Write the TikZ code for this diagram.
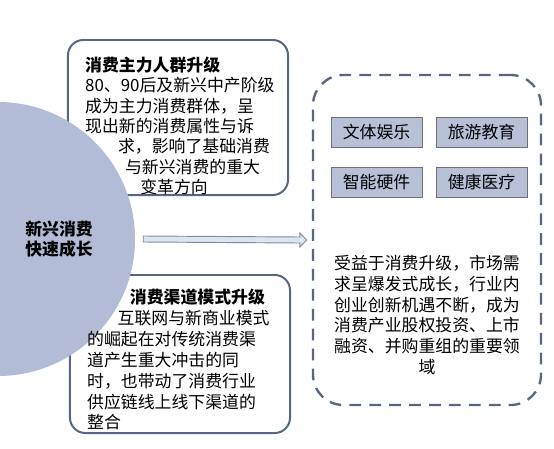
\documentclass[tikz,border=0pt]{standalone}
\usepackage{fontspec}
\setmainfont{Noto Sans CJK SC}
\newfontfamily\cjk{Noto Sans CJK SC}
\usepackage{tikz}
\usetikzlibrary{calc}
\usepackage{xcolor}

\definecolor{hubfill}{RGB}{179,188,214}
\definecolor{boxline}{RGB}{88,102,133}
\definecolor{tagfill}{RGB}{184,192,216}
\definecolor{tagline}{RGB}{112,112,112}
\definecolor{flowfill}{RGB}{220,230,242}
\definecolor{flowline}{RGB}{128,138,160}

\tikzset{
  card/.style={draw=boxline, line width=1.7pt, rounded corners=13pt, fill=white,
    rectangle, inner sep=0pt, minimum width=6.6cm},
  group/.style={draw=boxline, line width=2pt, dash pattern=on 10pt off 7pt,
    rounded corners=26pt, rectangle, inner sep=0pt,
    minimum width=6.84cm, minimum height=9.9cm},
  tag/.style={draw=tagline, line width=0.6pt, fill=tagfill, rectangle,
    minimum width=2.73cm, minimum height=0.9cm, inner sep=0pt,
    font=\cjk\fontsize{14.4}{17}\selectfont},
  body/.style={inner sep=0pt, font=\cjk\fontsize{14.4}{17.4}\selectfont},
}

\begin{document}
\begin{tikzpicture}[x=0.03cm, y=-0.03cm]
  \useasboundingbox (0,0) rectangle (554,449);
  \clip (0,0) rectangle (554,449);

  % Upper card (consumer groups)
  \node[card, minimum height=4.65cm] (upper) at (178,117.5) {};
  % Lower card (channels)
  \node[card, minimum height=4.74cm] (lower) at (180,354) {};

  % Hub circle on the left
  \node[circle, fill=hubfill, minimum size=8.22cm, inner sep=0pt] (hub) at (-2,239) {};
  \node[body, align=center, font=\cjk\bfseries\fontsize{14.4}{17.4}\selectfont]
    (hubtext) at (59,239) {新兴消费\\快速成长};

  % Texts of the cards
  \node[body, align=left, anchor=north west] (uppertext) at (85,56.5)
    {\textbf{消费主力人群升级}\\
     80、90后及新兴中产阶级\\
     成为主力消费群体，呈\\
     现出新的消费属性与诉\\
     \hspace*{28pt}求，影响了基础消费\\
     \hspace*{34pt}与新兴消费的重大\\
     \hspace*{47pt}变革方向};
  \node[body, align=left, anchor=north west,
    font=\cjk\fontsize{14.4}{17.8}\selectfont] (lowertext) at (87,289)
    {\hspace*{36.5pt}\textbf{消费渠道模式升级}\\
     \hspace*{26pt}互联网与新商业模式\\
     的崛起在对传统消费渠\\
     道产生重大冲击的同\\
     时，也带动了消费行业\\
     供应链线上线下渠道的\\
     整合};

  % Dashed group on the right
  \node[group] (grp) at (427,240) {};
  \node[tag] (ent) at (376.5,132) {文体娱乐};
  \node[tag] (edu) at (481.5,132) {旅游教育};
  \node[tag] (hw)  at (376.5,182.5) {智能硬件};
  \node[tag] (med) at (481.5,182.5) {健康医疗};
  \node[body, align=center, font=\cjk\fontsize{14.4}{17.7}\selectfont]
    (grptext) at (427,315)
    {受益于消费升级，市场需\\
     求呈爆发式成长，行业内\\
     创业创新机遇不断，成为\\
     消费产业股权投资、上市\\
     融资、并购重组的重要领\\
     域};

  % Block arrow from hub to group
  \coordinate (f0) at ($(hub.east)+(8,0)$);
  \coordinate (f1) at ($(grp.west)+(-5,0)$);
  \draw[fill=flowfill, draw=flowline, line width=0.8pt, line join=miter]
    ($(f0)+(0,-3)$) -- ($(f1)+(-7,-3)$) -- ($(f1)+(-7,-7)$) -- (f1)
    -- ($(f1)+(-7,7)$) -- ($(f1)+(-7,3)$) -- ($(f0)+(0,3)$) -- cycle;
\end{tikzpicture}
\end{document}
